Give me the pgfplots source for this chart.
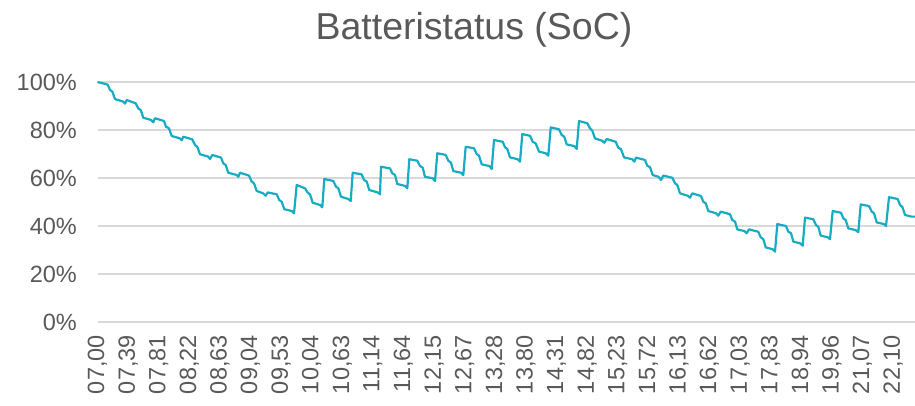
\documentclass[border=0pt]{standalone}
\usepackage{fontspec}
\setmainfont{Liberation Sans}
\usepackage{pgfplots}
\pgfplotsset{compat=1.18}
\definecolor{txt}{HTML}{595959}
\definecolor{gridc}{HTML}{D9D9D9}
\definecolor{soc}{HTML}{17ACC3}
\begin{document}
\begin{tikzpicture}
\useasboundingbox (0,0) rectangle (915pt,405pt);
\node[anchor=base, font=\fontsize{37.5}{44}\selectfont, text=txt, inner sep=0pt] at (474pt,365pt) {Batteristatus (SoC)};
\begin{axis}[
  at={(97.5pt,83pt)}, anchor=south west,
  scale only axis, width=817.5pt, height=240pt,
  xmin=97.5, xmax=915, ymin=0, ymax=100,
  clip=false,
  axis line style={draw=none},
  tick style={draw=none},
  ymajorgrids, major grid style={draw=gridc, line width=1.3pt},
  ytick={0,20,40,60,80,100},
  yticklabels={0\%,20\%,40\%,60\%,80\%,100\%},
  xtick={97.5,128.1,158.7,189.3,219.9,250.5,281.1,311.7,342.3,372.9,403.5,434.1,464.7,495.3,525.9,556.5,587.1,617.7,648.3,678.9,709.5,740.1,770.7,801.3,831.9,862.5,893.1},
  xticklabels={{07,00},{07,39},{07,81},{08,22},{08,63},{09,04},{09,53},{10,04},{10,63},{11,14},{11,64},{12,15},{12,67},{13,28},{13,80},{14,31},{14,82},{15,23},{15,72},{16,13},{16,62},{17,03},{17,83},{18,94},{19,96},{21,07},{22,10}},
  /pgf/number format/assume math mode=true,
  tick label style={font=\fontsize{23.5}{28}\selectfont, text=txt, inner sep=0pt},
  xticklabel style={rotate=90, anchor=east},
  yticklabel style={anchor=east},
  xticklabel shift=13pt,
  yticklabel shift=20.5pt,
]
\addplot[soc, line width=2.2pt, line join=round] coordinates {
(97.5,100) (107.7,98.9) (110,96.7) (112.3,96.0) (115,92.9) (123.3,91.8) (125,91.0)
(126.7,92.5) (135.7,91.1) (138.3,89.0) (140.7,88.3) (143.3,85.1) (151,84.2) (153.3,83.2)
(155,84.9) (164,83.75) (166,81.4) (169,80.7) (171.7,77.5) (180,76.5) (181.7,75.7)
(183.3,77.2) (192.3,76.1) (195,73.75) (197.3,73.0) (200,69.9) (208.3,68.9) (210,67.9)
(212.3,69.6) (221,68.5) (223.3,66.1) (225.7,65.4) (228.3,62.2) (236.7,61.25) (238.3,60.5)
(240,62.2) (249,61.0) (251.7,58.5) (254,57.8) (256.7,54.6) (263.3,53.6) (265.7,52.6)
(267.7,54.0) (276.7,53.2) (279.3,50.8) (281.7,50.1) (284.3,47.0) (291.7,46.25) (294,45.3)
(296.7,57.1) (305,55.7) (307.7,53.9) (310,53.2) (312.7,49.7) (320,48.75) (322.3,47.8)
(324.3,59.6) (333.3,58.75) (336,56.4) (338.3,55.7) (341,52.2) (348.3,51.25) (350.7,50.4)
(352.7,62.2) (361.7,61.5) (364,59.2) (366.7,58.5) (369.3,55.0) (377.7,54.0) (380,53.2)
(381,64.7) (390,64.0) (392.3,61.95) (395,61.25) (397.3,57.5) (405,56.7) (407.3,55.7)
(409.3,67.8) (417.3,67.2) (420,65.0) (422.7,64.3) (425,60.5) (432.7,59.9) (435,58.75)
(437.3,70.3) (445.7,69.6) (448.3,67.2) (451,66.4) (453.3,62.9) (461,62.2) (463.3,61.25)
(465.7,73.0) (474,72.4) (476.7,70.0) (479,69.3) (481.7,65.7) (489.3,65.0) (491.7,63.75)
(494,75.8) (502.7,75.1) (505,72.8) (507.3,72.1) (510,68.6) (517.7,67.8) (520,66.8)
(522.3,78.3) (530,77.6) (532.7,75.1) (535.7,74.4) (539,71.0) (545.7,70.3) (548.3,69.3)
(550.7,81.1) (559,80.3) (561.7,77.9) (564.3,77.2) (566.7,74.0) (574.3,73.3) (576.7,72.1)
(579,83.75) (587.3,82.8) (590,80.7) (592.3,79.7) (595,76.5) (602.3,75.5) (604.3,74.7)
(606.7,76.25) (615.7,75.1) (618.3,72.6) (621,72.0) (624,68.6) (632.3,67.8) (634.3,66.8)
(636,68.5) (645,67.5) (647.3,65.1) (650,64.5) (652.7,61.25) (658.5,60.5) (661,59.2)
(663.3,61.0) (672.3,60.1) (675,57.8) (677.3,57.1) (680,53.6) (687.7,52.6) (690,51.8)
(692.3,53.6) (701,52.5) (703.3,50.1) (705.7,49.5) (708.3,46.25) (716,45.3) (718.3,44.3)
(720.7,46.0) (730,44.9) (732.3,42.5) (735,41.8) (737.3,38.6) (744.3,37.9) (746.7,37.0)
(749,38.6) (758.3,37.6) (760.7,35.3) (763.3,34.5) (765.7,31.1) (772.7,30.3) (775,29.3)
(777.3,40.8) (786,40.0) (788.3,37.6) (791,37.0) (793.3,33.5) (800,32.8) (802.7,31.8)
(805,43.5) (813.3,42.8) (816,40.4) (818.3,39.7) (820.7,36.0) (827.7,35.3) (830,34.5)
(832.7,46.25) (841,45.5) (843.3,43.2) (845.7,42.5) (848.3,39.0) (855.7,38.3) (858.3,37.4)
(860.7,49.0) (869,48.3) (871.7,46.0) (874,45.3) (876.7,41.5) (884,40.8) (886,40.0)
(889,52.0) (897.7,51.25) (900,48.75) (902.3,48.0) (905,44.6) (911.7,43.9) (915,43.9)
};
\end{axis}
\end{tikzpicture}
\end{document}
